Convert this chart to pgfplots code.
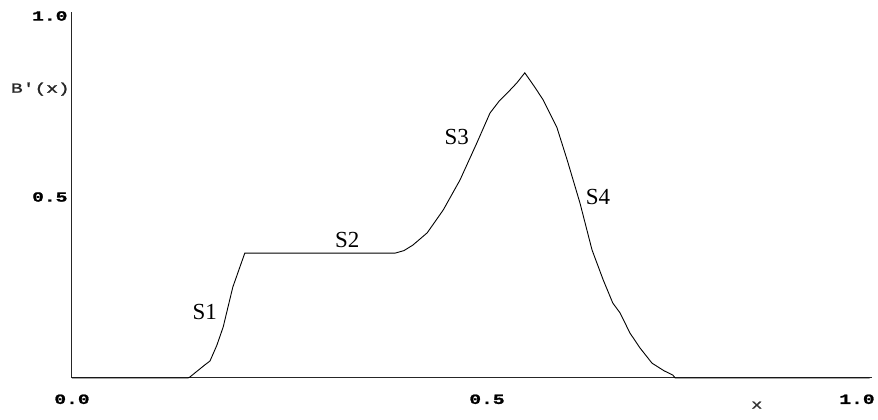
\documentclass[border=0pt]{standalone}
\usepackage{fontspec}
\setmainfont{Liberation Serif}
\newfontfamily\pixfont[FakeStretch=1.4,FakeBold=1.5]{Liberation Mono}
\usepackage{pgfplots}
\pgfplotsset{compat=1.18}

\begin{document}
\begin{tikzpicture}
\path[use as bounding box] (-72pt,-42pt) rectangle (806pt,378pt);
\begin{axis}[
    at={(0,0)}, anchor=south west,
    width=800pt, height=362pt, scale only axis,
    xmin=0, xmax=1, ymin=0, ymax=1,
    axis x line=bottom, axis y line=left,
    axis line style={line width=1pt, black!85, -},
    major tick length=0pt,
    xtick={0,0.5,1},
    xticklabels={0.0,\hspace*{30pt}0.5,1.0\hspace*{30pt}},
    ytick={0.5,1},
    yticklabels={0.5,1.0},
    tick label style={font=\pixfont\bfseries\fontsize{14}{16}\selectfont},
    xticklabel style={yshift=-13pt},
    yticklabel style={xshift=-1pt},
    clip=false]
  % y axis line drawn explicitly (it goes slightly above 1)
  \draw[line width=1pt, black!85] (axis cs:0,0) -- (axis cs:0,1.011);
  \addplot[black, line width=0.9pt, mark=none] coordinates {
    (0,0) (0.145,0) (0.1475,0.003) (0.157,0.02) (0.166,0.036) (0.1725,0.047)
    (0.181,0.09) (0.189,0.141) (0.201,0.251) (0.216,0.345)
    (0.404,0.345) (0.415,0.352) (0.426,0.367) (0.444,0.401) (0.464,0.464)
    (0.485,0.547) (0.506,0.649) (0.5225,0.732) (0.534,0.765) (0.544,0.787)
    (0.556,0.815) (0.566,0.843)
    (0.578,0.805) (0.589,0.768) (0.606,0.693) (0.619,0.602) (0.635,0.483)
    (0.65,0.354) (0.664,0.271) (0.676,0.207) (0.685,0.180)
    (0.6975,0.124) (0.71,0.083) (0.725,0.041) (0.74,0.02) (0.751,0.008)
    (0.754,0) (0.997,0)
  };
  \node[font=\fontsize{23}{26}\selectfont] at (axis cs:0.166,0.182) {S1};
  \node[font=\fontsize{23}{26}\selectfont] at (axis cs:0.344,0.381) {S2};
  \node[font=\fontsize{23}{26}\selectfont] at (axis cs:0.481,0.666) {S3};
  \node[font=\fontsize{23}{26}\selectfont] at (axis cs:0.6575,0.50) {S4};
  \node[font=\pixfont\fontsize{14}{16}\selectfont, anchor=east, black!85, inner sep=2pt] at (axis cs:0,0.798) {B'(x)};
  \node[font=\pixfont\fontsize{13}{15}\selectfont, black!80] at (axis cs:0.856,-0.075) {x};
\end{axis}
\end{tikzpicture}
\end{document}
